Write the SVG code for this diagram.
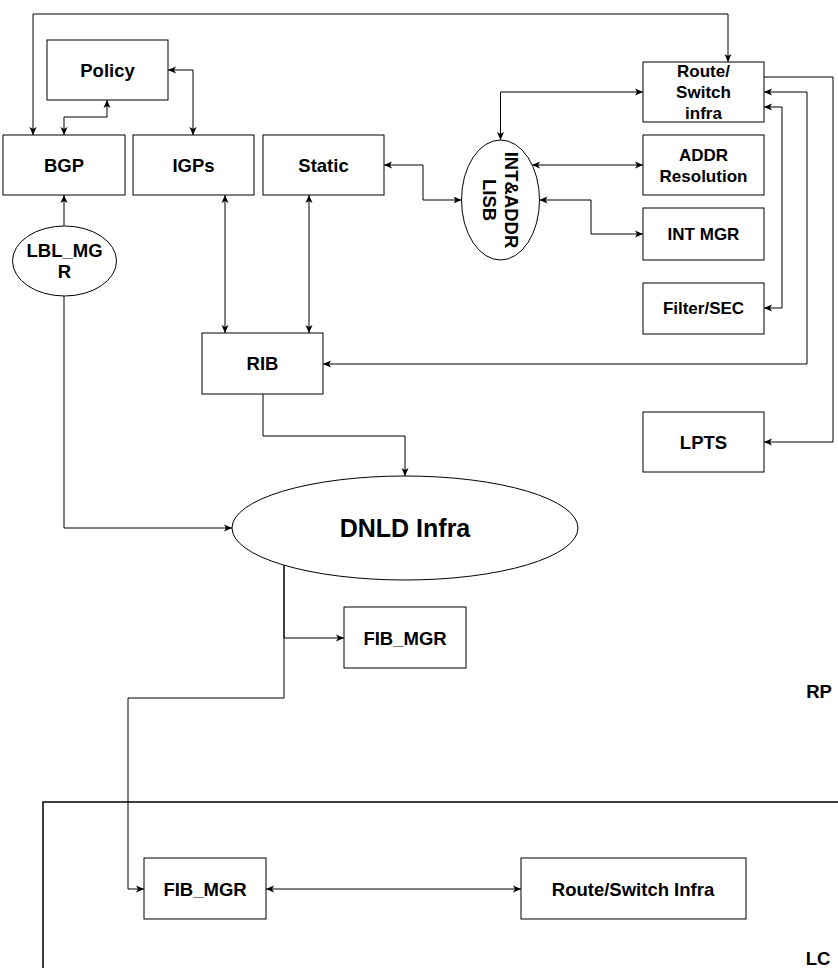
<svg xmlns="http://www.w3.org/2000/svg" width="838" height="968" viewBox="0 0 838 968">
<style>
.box{fill:#fff;stroke:#000;stroke-width:1}
.lbl{font-family:"Liberation Sans",Arial,Helvetica,sans-serif;font-weight:bold;font-size:18.5px;fill:#000;text-anchor:middle;dominant-baseline:central}
.sm{font-size:17px}
.big{font-size:25px}
.ln{fill:none;stroke:#000;stroke-width:1}
.both{marker-start:url(#arr);marker-end:url(#arr)}
.end{marker-end:url(#arr)}
</style>
<defs>
<marker id="arr" viewBox="0 0 8 8" markerWidth="8" markerHeight="8" refX="8" refY="4" markerUnits="userSpaceOnUse" orient="auto-start-reverse">
<path d="M0,0.5 L8,4 L0,7.5 L2,4 z" fill="#000"/>
</marker>
</defs>
<rect width="838" height="968" fill="#fff"/>

<g id="lc-boundary"><path d="M43,968 V802 H838" fill="none" stroke="#000" stroke-width="1.5"/></g>

<g id="connectors">
<path class="ln both" d="M33,135 V14 H728 V62"/>
<path class="ln both" d="M107,100 V117 H64 V135"/>
<path class="ln both" d="M168,70 H193 V135"/>
<path class="ln end" d="M64,226 V195"/>
<path class="ln both" d="M225,195 V333"/>
<path class="ln both" d="M309,195 V333"/>
<path class="ln end" d="M263,394 V436 H405 V476"/>
<path class="ln end" d="M64,296 V528 H232"/>
<path class="ln end" d="M284,565 V638 H344"/>
<path class="ln end" d="M284,565 V698 H128 V889 H144"/>
<path class="ln both" d="M266,889 H521"/>
<path class="ln both" d="M384,165 H423 V200 H461.5"/>
<path class="ln both" d="M500.5,140 V92 H643"/>
<path class="ln both" d="M532,165 H643"/>
<path class="ln both" d="M539.5,200 H591 V234 H643"/>
<path class="ln end" d="M764,77 H833 V442 H764"/>
<path class="ln both" d="M764,92 H807 V364 H323"/>
<path class="ln both" d="M764,107 H782 V308 H764"/>
</g>

<g id="policy"><rect class="box" x="47" y="40" width="121" height="60"/><text class="lbl" x="107.5" y="70">Policy</text></g>
<g id="bgp"><rect class="box" x="3" y="135" width="122" height="60"/><text class="lbl" x="64" y="165">BGP</text></g>
<g id="igps"><rect class="box" x="133" y="135" width="121" height="60"/><text class="lbl" x="193.5" y="165">IGPs</text></g>
<g id="static"><rect class="box" x="263" y="135" width="121" height="60"/><text class="lbl" x="323.5" y="165">Static</text></g>
<g id="lbl-mgr"><ellipse class="box" cx="64.5" cy="261" rx="52" ry="35"/><text class="lbl" x="64.5" y="250">LBL_MG</text><text class="lbl" x="64.5" y="271">R</text></g>
<g id="rib"><rect class="box" x="202" y="333" width="121" height="61"/><text class="lbl" x="262.5" y="363.5">RIB</text></g>
<g id="int-addr-lisb"><ellipse class="box" cx="500.5" cy="200" rx="39" ry="60"/>
<g transform="translate(500,200) rotate(90)"><text class="lbl" x="0" y="-11">INT&amp;ADDR</text><text class="lbl" x="0" y="11">LISB</text></g></g>
<g id="route-switch"><rect class="box" x="643" y="62" width="121" height="60"/><text class="lbl sm" x="703.5" y="71">Route/</text><text class="lbl sm" x="703.5" y="92">Switch</text><text class="lbl sm" x="703.5" y="113">infra</text></g>
<g id="addr-res"><rect class="box" x="643" y="135" width="121" height="60"/><text class="lbl sm" x="703.5" y="155">ADDR</text><text class="lbl sm" x="703.5" y="176">Resolution</text></g>
<g id="int-mgr"><rect class="box" x="643" y="208" width="121" height="52"/><text class="lbl sm" x="703.5" y="234">INT MGR</text></g>
<g id="filter-sec"><rect class="box" x="643" y="283" width="121" height="51"/><text class="lbl sm" x="703.5" y="308.5">Filter/SEC</text></g>
<g id="lpts"><rect class="box" x="643" y="412" width="121" height="60"/><text class="lbl" x="703.5" y="442">LPTS</text></g>
<g id="dnld"><ellipse class="box" cx="405" cy="528" rx="173" ry="52"/><text class="lbl big" x="405" y="528">DNLD Infra</text></g>
<g id="fib-rp"><rect class="box" x="344" y="607" width="122" height="61"/><text class="lbl" x="405" y="638">FIB_MGR</text></g>
<g id="fib-lc"><rect class="box" x="144" y="858" width="122" height="61"/><text class="lbl" x="205" y="889">FIB_MGR</text></g>
<g id="rs-lc"><rect class="box" x="521" y="858" width="225" height="61"/><text class="lbl" x="633" y="889">Route/Switch Infra</text></g>
<g id="rp-label"><text class="lbl" x="819" y="691">RP</text></g>
<g id="lc-label"><text class="lbl" x="818" y="958">LC</text></g>
</svg>
